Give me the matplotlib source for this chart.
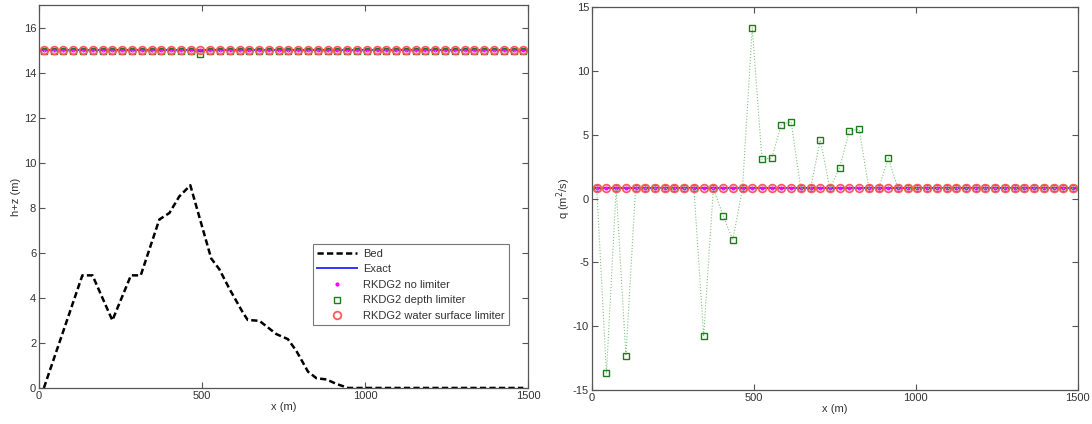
import numpy as np
import matplotlib.pyplot as plt

plt.rcParams['font.family'] = ['Liberation Sans', 'DejaVu Sans']
plt.rcParams['axes.unicode_minus'] = False

# cell centres (m)
x_cells = np.arange(15, 1500, 30)

# bed profile vertices
bed_x = [15, 133, 164, 225, 282, 312, 369, 400, 430, 464, 528, 553, 584,
         625, 640, 676, 728, 763, 789, 825, 851, 881, 912, 948, 1485]
bed_z = [0.0, 5.0, 5.0, 3.0, 5.0, 5.0, 7.48, 7.77, 8.5, 9.0, 5.75, 5.27, 4.4,
         3.35, 3.02, 2.98, 2.39, 2.17, 1.65, 0.72, 0.43, 0.38, 0.18, 0.0, 0.0]

# water surface h+z (m)
exact_x = [0, 1500]
exact_hz = [15.0, 15.0]
nolim_hz = [15.0] * 50
depth_hz = [14.95, 14.95, 14.95, 14.95, 14.95, 14.95, 14.95, 14.95, 14.95, 14.95,
            14.95, 14.95, 14.95, 14.95, 14.95, 14.95, 14.85, 14.95, 14.95, 14.95,
            14.95, 14.95, 14.95, 14.95, 14.95, 14.95, 14.95, 14.95, 14.95, 14.95,
            14.95, 14.95, 14.95, 14.95, 14.95, 14.95, 14.95, 14.95, 14.95, 14.95,
            14.95, 14.95, 14.95, 14.95, 14.95, 14.95, 14.95, 14.95, 14.95, 14.95]
wsl_hz = [15.0] * 50

# discharge q (m^2/s)
exact_q = [0.8, 0.8]
nolim_q = [0.8] * 50
depth_q = [0.8, -13.7, 0.8, -12.3, 0.8, 0.8, 0.8, 0.8, 0.8, 0.8,
           0.8, -10.8, 0.8, -1.33, -3.23, 0.8, 13.4, 3.08, 3.18, 5.8,
           6.03, 0.8, 0.8, 4.6, 0.8, 2.43, 5.32, 5.45, 0.8, 0.8,
           3.16, 0.8, 0.8, 0.8, 0.8, 0.8, 0.8, 0.8, 0.8, 0.8,
           0.8, 0.8, 0.8, 0.8, 0.8, 0.8, 0.8, 0.8, 0.8, 0.8]
wsl_q = [0.8] * 50

txt = '#333333'
fs = 8

fig = plt.figure(figsize=(10.92, 4.24), dpi=100)
ax1 = fig.add_axes([0.0357, 0.085, 0.448, 0.903])
ax2 = fig.add_axes([0.542, 0.080, 0.445, 0.903])


def draw_series(ax, exact, nolim, depth, wsl):
    ax.plot(exact_x, exact, '-', color='#3333ff', lw=1.4, label='Exact')
    ax.plot(x_cells, nolim, '.', color='#ff00ff', ms=4, label='RKDG2 no limiter')
    ax.plot(x_cells, depth, ':', color='#7fc47f', lw=0.8)
    ax.plot(x_cells, depth, 's', mfc='none', mec='#1f7a1f', mew=1.0, ms=4.5,
            label='RKDG2 depth limiter')
    ax.plot(x_cells, wsl, 'o', mfc='none', mec='#ff5a5a', mew=1.3, ms=5.5,
            label='RKDG2 water surface limiter')


ax1.plot(bed_x, bed_z, '--', color='black', lw=1.8, dashes=(2.5, 1.3), label='Bed')
draw_series(ax1, exact_hz, nolim_hz, depth_hz, wsl_hz)
ax1.set_xlim(0, 1500)
ax1.set_ylim(0, 17)
ax1.set_yticks(np.arange(0, 17, 2))
ax1.set_ylabel('h+z (m)', fontsize=fs, color=txt, labelpad=2)

draw_series(ax2, exact_q, nolim_q, depth_q, wsl_q)
ax2.set_xlim(0, 1500)
ax2.set_ylim(-15, 15)
ax2.set_yticks(np.arange(-15, 16, 5))
ax2.set_ylabel('q (m$^2$/s)', fontsize=fs, color=txt, labelpad=0)

for ax in (ax1, ax2):
    ax.set_xticks([0, 500, 1000, 1500])
    ax.set_xlabel('x (m)', fontsize=fs, color=txt, labelpad=1)
    ax.tick_params(direction='in', top=True, right=True, length=4, width=0.8,
                   labelsize=fs, labelcolor=txt, color='#555555', pad=2)
    for s in ax.spines.values():
        s.set_color('#555555')
        s.set_linewidth(0.9)

leg = ax1.legend(loc='upper left', bbox_to_anchor=(0.56, 0.375), borderaxespad=0,
                 fontsize=fs, frameon=True, fancybox=False, handlelength=3.6,
                 labelspacing=0.5, borderpad=0.4, handletextpad=0.5)
leg.get_frame().set_edgecolor('#555555')
leg.get_frame().set_linewidth(0.8)
for t in leg.get_texts():
    t.set_color(txt)

fig.savefig('out.png', dpi=100)
